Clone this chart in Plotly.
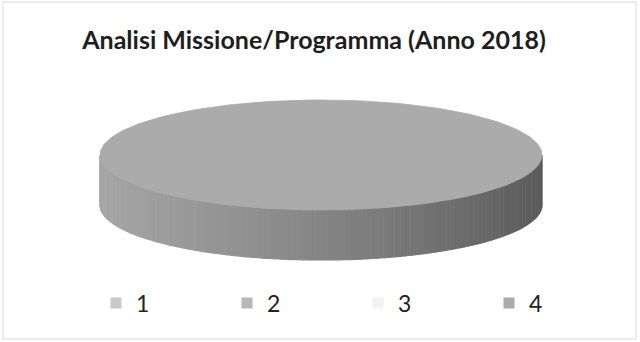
import math
import plotly.graph_objects as go

# ---- data ----
categories = ["1", "2", "3", "4"]
values = [0, 0, 0, 100]
colors = ["#c9c9c9", "#b8b8b8", "#f3f3f3", "#ababab"]
title_text = "Analisi Missione/Programma (Anno 2018)"

# ---- geometry (pixel space) ----
W, H = 640, 342
cx, cy = 321, 155      # centre of top ellipse
rx, ry = 221, 55       # radii of top ellipse
depth = 50             # thickness of the disc


def hex_to_rgb(h):
    h = h.lstrip("#")
    return tuple(int(h[i:i + 2], 16) for i in (0, 2, 4))


def shade(h, f):
    r, g, b = hex_to_rgb(h)
    return "rgb(%d,%d,%d)" % (min(255, r * f), min(255, g * f), min(255, b * f))


def pt(a, dy=0.0):
    # a: pie angle in radians, clockwise from 12 o'clock
    return cx + rx * math.sin(a), cy - ry * math.cos(a) + dy


total = float(sum(values))
slices = []
acc = 0.0
for cat, v, col in zip(categories, values, colors):
    a0 = acc / total * 2 * math.pi
    acc += v
    a1 = acc / total * 2 * math.pi
    slices.append((cat, v, col, a0, a1))

fig = go.Figure()

# side wall (front half: angles between 90deg and 270deg)
n_strips = 120
front0, front1 = math.pi / 2, 3 * math.pi / 2
for i in range(n_strips):
    b0 = front0 + (front1 - front0) * i / n_strips
    b1 = front0 + (front1 - front0) * (i + 1) / n_strips
    mid = (b0 + b1) / 2
    col = None
    for cat, v, c, a0, a1 in slices:
        if v > 0 and a0 <= mid < a1:
            col = c
    if col is None:
        continue
    # lighting: light from the left
    t = (1 - math.sin(mid)) / 2  # 0 at right (90deg), 1 at left (270deg)
    f = 0.52 + 0.45 * (t ** 0.8)
    xs, ys = [], []
    steps = 3
    for k in range(steps + 1):
        a = b0 + (b1 - b0) * k / steps
        x, y = pt(a)
        xs.append(x); ys.append(y)
    for k in range(steps, -1, -1):
        a = b0 + (b1 - b0) * k / steps
        x, y = pt(a, depth)
        xs.append(x); ys.append(y)
    c = shade(col, f)
    fig.add_trace(go.Scatter(x=xs, y=ys, mode="lines", fill="toself",
                             fillcolor=c, line=dict(color=c, width=1.2),
                             hoverinfo="skip", showlegend=False))

# top face wedges
for cat, v, col, a0, a1 in slices:
    if v <= 0:
        continue
    n = max(4, int(200 * (a1 - a0) / (2 * math.pi)))
    xs, ys = [], []
    full = (a1 - a0) >= 2 * math.pi - 1e-9
    if not full:
        xs.append(cx); ys.append(cy)
    for k in range(n + 1):
        a = a0 + (a1 - a0) * k / n
        x, y = pt(a)
        xs.append(x); ys.append(y)
    c = shade(col, 1.0)
    fig.add_trace(go.Scatter(x=xs, y=ys, mode="lines", fill="toself",
                             fillcolor=c, line=dict(color=c, width=0.8),
                             name=cat, hoverinfo="skip", showlegend=False))

# legend entries
for cat, col in zip(categories, colors):
    fig.add_trace(go.Scatter(x=[None], y=[None], mode="markers", name=cat,
                             marker=dict(symbol="square", size=11, color=col)))

fig.update_layout(
    width=W, height=H,
    margin=dict(l=0, r=0, t=0, b=0),
    paper_bgcolor="white", plot_bgcolor="white",
    xaxis=dict(range=[0, W], visible=False, domain=[0, 1], fixedrange=True),
    yaxis=dict(range=[H, 0], visible=False, domain=[0, 1], fixedrange=True),
    title=dict(text="<b>" + title_text + "</b>", x=314 / W, xanchor="center",
               y=1 - 40 / H, yanchor="middle",
               font=dict(family="Lato", size=25, color="#1e1e1e")),
    legend=dict(orientation="h", x=96 / W, xanchor="left", y=1 - 303 / H,
                yanchor="middle", entrywidth=86, entrywidthmode="pixels",
                font=dict(family="Lato", size=23, color="#222222"),
                itemclick=False, itemdoubleclick=False,
                bgcolor="rgba(0,0,0,0)"),
    showlegend=True,
    shapes=[dict(type="rect", xref="paper", yref="paper",
                 x0=3 / W, x1=636 / W, y0=1 - 339 / H, y1=1 - 2 / H,
                 line=dict(color="#d9d9d9", width=1))],
)

fig.write_html("out.html",
               config={"displayModeBar": False},
               post_script="document.body.style.margin='0';"
                           "document.body.style.overflow='hidden';")
